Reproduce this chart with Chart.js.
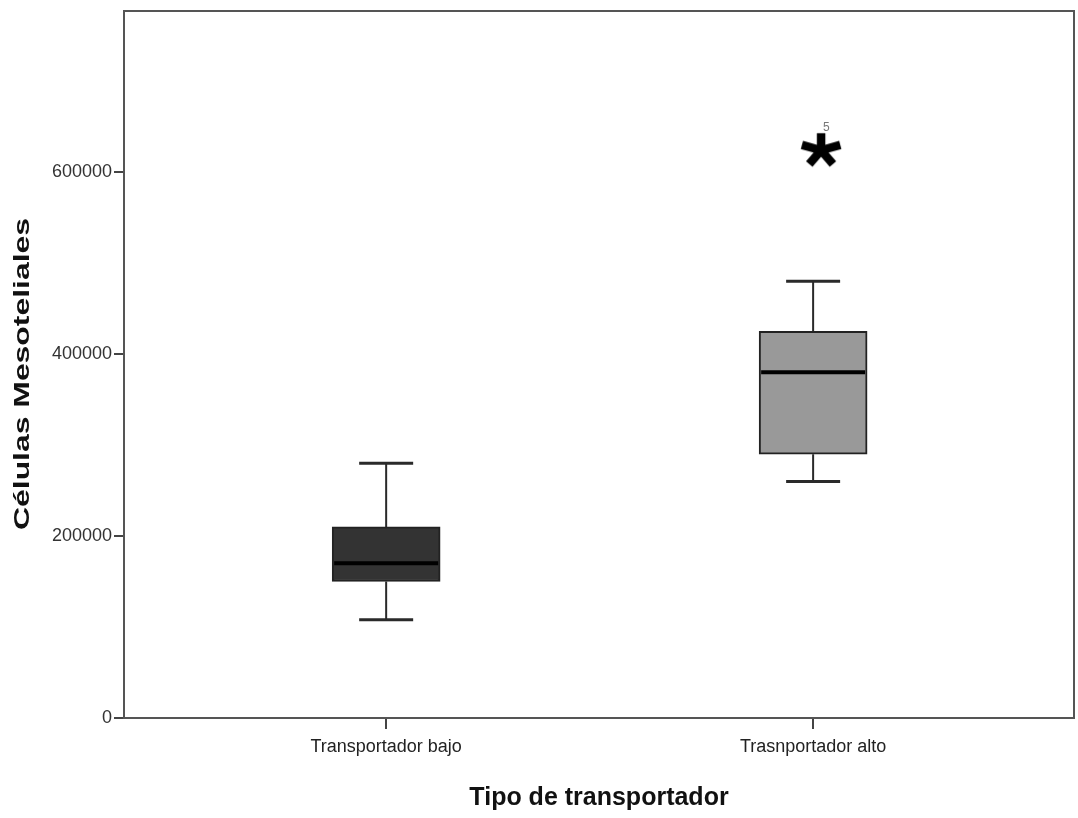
<!DOCTYPE html>
<html>
<head>
<meta charset="utf-8">
<script src="https://cdn.jsdelivr.net/npm/chart.js@4.4.1/dist/chart.umd.min.js"></script>
<style>
  html, body { margin: 0; padding: 0; background: #ffffff; }
  #wrap { width: 1078px; height: 818px; }
</style>
</head>
<body>
<div id="wrap"><canvas id="c" width="1078" height="818"></canvas></div>
<script>
// Box plot summary per transporter group
const categories = ['Transportador bajo', 'Trasnportador alto'];
const whiskerLow = [108000, 260000];
const q1 = [150000, 290000];
const median = [170000, 380000];
const q3 = [210000, 425000];
const whiskerHigh = [280000, 480000];
const outlierValues = [[], [625000]];
const outlierCases = [[], ['5']];
const yTicks = [0, 200000, 400000, 600000];
const xTitle = 'Tipo de transportador';
const yTitle = 'Células Mesoteliales';

const boxFill = ['#333333', '#999999'];
const sans = "'Liberation Sans', Arial, sans-serif";

// Asterisk marker used for extreme values
function asteriskMarker() {
  const cv = document.createElement('canvas');
  cv.width = 70; cv.height = 60;
  const g = cv.getContext('2d');
  g.strokeStyle = '#000';
  g.lineWidth = 8.5;
  g.lineCap = 'butt';
  const cx = 35 + 8, cy = 31, r = 18;
  for (let k = 0; k < 5; k++) {
    const a = -Math.PI / 2 + k * 2 * Math.PI / 5;
    g.beginPath();
    g.moveTo(cx, cy);
    g.lineTo(cx + r * Math.cos(a) * 1.12, cy + r * Math.sin(a) * 0.95);
    g.stroke();
  }
  return cv;
}

const outlierPoints = [];
outlierValues.forEach((vals, i) => vals.forEach((v, j) => outlierPoints.push({ x: i + 1, y: v, label: outlierCases[i][j] })));

function noScalePadding(s) {
  s.paddingTop = 0; s.paddingBottom = 0; s.paddingLeft = 0; s.paddingRight = 0;
}

const boxPlotParts = {
  id: 'boxPlotParts',
  beforeDatasetsDraw(chart) {
    const { ctx, chartArea: a, scales: { x, y } } = chart;
    const meta = chart.getDatasetMeta(0);
    ctx.save();
    // whiskers and caps
    ctx.strokeStyle = '#2a2a2a';
    meta.data.forEach((bar, i) => {
      const cx = x.getPixelForValue(i + 1);
      const half = bar.width / 4;
      const yl = y.getPixelForValue(whiskerLow[i]);
      const yh = y.getPixelForValue(whiskerHigh[i]);
      ctx.lineWidth = 2;
      ctx.beginPath();
      ctx.moveTo(cx, yh); ctx.lineTo(cx, y.getPixelForValue(q3[i]));
      ctx.moveTo(cx, y.getPixelForValue(q1[i])); ctx.lineTo(cx, yl);
      ctx.stroke();
      ctx.lineWidth = 3;
      ctx.beginPath();
      ctx.moveTo(cx - half, yh); ctx.lineTo(cx + half, yh);
      ctx.moveTo(cx - half, yl); ctx.lineTo(cx + half, yl);
      ctx.stroke();
    });
    // frame on top and right
    ctx.strokeStyle = '#555555';
    ctx.lineWidth = 2;
    ctx.beginPath();
    ctx.moveTo(a.left, a.top);
    ctx.lineTo(a.right, a.top);
    ctx.lineTo(a.right, a.bottom);
    ctx.stroke();
    ctx.restore();
  },
  afterDatasetsDraw(chart) {
    const { ctx, scales: { x, y } } = chart;
    const meta = chart.getDatasetMeta(0);
    ctx.save();
    ctx.strokeStyle = '#000000';
    ctx.lineWidth = 4;
    meta.data.forEach((bar, i) => {
      const ym = y.getPixelForValue(median[i]);
      ctx.beginPath();
      ctx.moveTo(bar.x - bar.width / 2 + 2, ym);
      ctx.lineTo(bar.x + bar.width / 2 - 2, ym);
      ctx.stroke();
    });
    // case labels beside extreme values
    ctx.fillStyle = '#777777';
    ctx.font = "12px " + sans;
    ctx.textAlign = 'left';
    ctx.textBaseline = 'middle';
    chart.getDatasetMeta(1).data.forEach((pt, k) => {
      ctx.fillText(outlierPoints[k].label, pt.x + 10, pt.y - 22);
    });
    ctx.restore();
  },
  afterDraw(chart) {
    const { ctx } = chart;
    ctx.save();
    ctx.translate(23, 374);
    ctx.rotate(-Math.PI / 2);
    ctx.font = "bold 22px " + sans;
    ctx.fillStyle = '#111111';
    ctx.textAlign = 'center';
    ctx.textBaseline = 'middle';
    const w = ctx.measureText(yTitle).width;
    ctx.scale(312 / w, 1);
    ctx.fillText(yTitle, 0, 0);
    ctx.restore();
  }
};

new Chart(document.getElementById('c'), {
  data: {
    datasets: [
      {
        type: 'bar',
        data: categories.map((c, i) => ({ x: i + 1, y: [q1[i], q3[i]] })),
        backgroundColor: boxFill,
        borderColor: '#222222',
        borderWidth: 2,
        borderSkipped: false,
        barThickness: 108
      },
      {
        type: 'scatter',
        data: outlierPoints,
        pointStyle: asteriskMarker(),
        pointRadius: 20
      }
    ]
  },
  options: {
    responsive: false,
    animation: false,
    devicePixelRatio: 1,
    layout: { autoPadding: false, padding: { top: 11, right: 4, left: 0, bottom: 0 } },
    plugins: { legend: { display: false }, tooltip: { enabled: false } },
    scales: {
      x: {
        type: 'linear',
        offset: false,
        min: 0.386,
        max: 2.611,
        afterBuildTicks: s => { s.ticks = categories.map((c, i) => ({ value: i + 1 })); },
        afterFit: s => { s.height = 100; noScalePadding(s); },
        ticks: {
          callback: v => categories[v - 1],
          font: { family: sans, size: 18 },
          color: '#222222',
          padding: 7,
          maxRotation: 0,
          autoSkip: false
        },
        grid: { offset: false, drawOnChartArea: false, drawTicks: true, tickLength: 11, color: '#444444', lineWidth: 2 },
        border: { color: '#555555', width: 2 },
        title: {
          display: true,
          text: xTitle,
          font: { family: sans, size: 25, weight: 'bold' },
          color: '#111111',
          padding: { top: 0, bottom: 5 }
        }
      },
      y: {
        min: 0,
        max: 777000,
        afterBuildTicks: s => { s.ticks = yTicks.map(v => ({ value: v })); },
        afterFit: s => { s.width = 124; noScalePadding(s); },
        ticks: {
          callback: v => String(v),
          font: { family: sans, size: 18 },
          color: '#333333',
          padding: 2
        },
        grid: { drawOnChartArea: false, drawTicks: true, tickLength: 10, color: '#444444', lineWidth: 2 },
        border: { color: '#555555', width: 2 }
      }
    }
  },
  plugins: [boxPlotParts]
});
</script>
</body>
</html>
